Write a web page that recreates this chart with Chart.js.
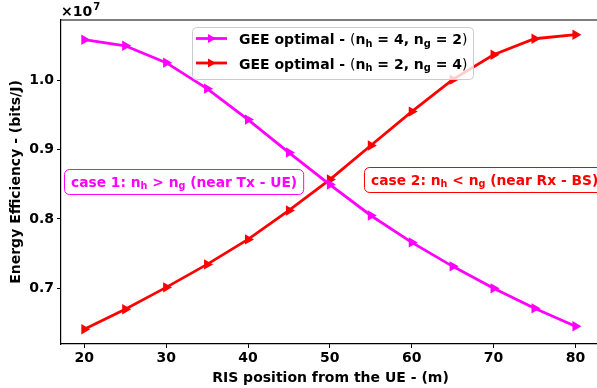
<!DOCTYPE html>
<html>
<head>
<meta charset="utf-8">
<script src="https://cdn.jsdelivr.net/npm/chart.js"></script>
<style>
  html, body { margin: 0; padding: 0; background: #fff; overflow: hidden; }
  #wrap { width: 597px; height: 388px; overflow: hidden; }
</style>
</head>
<body>
<div id="wrap"><canvas id="geeChart" width="606" height="388"></canvas></div>
<script>
// RIS position (m)
const risPosition = [20, 25, 30, 35, 40, 45, 50, 55, 60, 65, 70, 75, 80];
// GEE values in units of 1e7 bits/J
const geeH4G2 = [1.0583, 1.0496, 1.0252, 0.9878, 0.9432, 0.8957, 0.8496, 0.8050, 0.7662, 0.7317, 0.7000, 0.6712, 0.6453];
const geeH2G4 = [0.6410, 0.6698, 0.7014, 0.7345, 0.7705, 0.8122, 0.8568, 0.9058, 0.9547, 1.0007, 1.0367, 1.0597, 1.0655];
const xTicks = [20, 30, 40, 50, 60, 70, 80];
const yTicks = [0.7, 0.8, 0.9, 1.0];
const yTickLabels = ['0.7', '0.8', '0.9', '1.0'];

const FONT = '"DejaVu Sans"';
const MAGENTA = '#ff00ff';
const RED = '#ff0000';

// draw text with subscripts, parts = [{t, sub, normal}]
function richText(ctx, parts, x, y, size, color) {
  let cx = x;
  ctx.fillStyle = color;
  ctx.textBaseline = 'alphabetic';
  ctx.textAlign = 'left';
  for (const p of parts) {
    const fs = p.sub ? size * 0.7 : size;
    ctx.font = (p.normal ? '' : 'bold ') + fs + 'px ' + FONT;
    const dy = p.sub ? size * 0.2 : 0;
    ctx.fillText(p.t, cx, y + dy);
    cx += ctx.measureText(p.t).width;
  }
  return cx - x;
}

function geeLabel(h, g) {
  return [
    {t: 'GEE optimal - '}, {t: '(', normal: true},
    {t: 'n'}, {t: 'h', sub: true}, {t: ' = ' + h + ', '},
    {t: 'n'}, {t: 'g', sub: true}, {t: ' = ' + g},
    {t: ')', normal: true}
  ];
}

function drawMarker(ctx, x, y, color) {
  ctx.save();
  ctx.fillStyle = color;
  ctx.beginPath();
  ctx.moveTo(x + 4.5, y);
  ctx.lineTo(x - 3.5, y - 4.6);
  ctx.lineTo(x - 3.5, y + 4.6);
  ctx.closePath();
  ctx.fill();
  ctx.restore();
}

const extras = {
  id: 'extras',
  afterDraw(chart) {
    const ctx = chart.ctx;
    const a = chart.chartArea;
    ctx.save();
    // top spine
    ctx.strokeStyle = '#000';
    ctx.lineWidth = 1.2;
    ctx.beginPath();
    ctx.moveTo(a.left, a.top);
    ctx.lineTo(a.right, a.top);
    ctx.stroke();

    // offset text
    ctx.fillStyle = '#000';
    ctx.font = 'bold 14px ' + FONT;
    ctx.textBaseline = 'alphabetic';
    ctx.fillText('\u00d710', 61, 16);
    const w = ctx.measureText('\u00d710').width;
    ctx.font = 'bold 10px ' + FONT;
    ctx.fillText('7', 61 + w + 1, 10);

    // axis titles
    ctx.font = 'bold 14px ' + FONT;
    ctx.textAlign = 'center';
    ctx.textBaseline = 'middle';
    ctx.fillText('RIS position from the UE - (m)', (a.left + a.right) / 2, 378);
    ctx.save();
    ctx.translate(16, (a.top + a.bottom) / 2);
    ctx.rotate(-Math.PI / 2);
    ctx.fillText('Energy Efficiency - (bits/J)', 0, 0);
    ctx.restore();

    // annotation boxes
    const boxes = [
      {x: 64, y: 169, h: 25, color: MAGENTA,
       parts: [{t: 'case 1: n'}, {t: 'h', sub: true}, {t: ' > n'}, {t: 'g', sub: true}, {t: ' (near Tx - UE)'}]},
      {x: 364, y: 167, h: 25, color: RED,
       parts: [{t: 'case 2: n'}, {t: 'h', sub: true}, {t: ' < n'}, {t: 'g', sub: true}, {t: ' (near Rx - BS)'}]}
    ];
    const fs = 13.8;
    for (const b of boxes) {
      // measure text first
      ctx.save();
      ctx.globalAlpha = 0;
      const tw = richText(ctx, b.parts, 0, -100, fs, b.color);
      ctx.restore();
      ctx.beginPath();
      ctx.roundRect(b.x + 0.5, b.y + 0.5, tw + 13, b.h, 5);
      ctx.fillStyle = '#fff';
      ctx.fill();
      ctx.strokeStyle = b.color;
      ctx.lineWidth = 1;
      ctx.stroke();
      richText(ctx, b.parts, b.x + 7, b.y + b.h / 2 + 5, fs, b.color);
    }

    // legend
    ctx.beginPath();
    ctx.roundRect(192.5, 27.5, 281, 52, 4);
    ctx.fillStyle = 'rgba(255,255,255,0.8)';
    ctx.fill();
    ctx.strokeStyle = '#cccccc';
    ctx.lineWidth = 1;
    ctx.stroke();
    const rows = [
      {y: 38.5, color: MAGENTA, parts: geeLabel(4, 2)},
      {y: 63, color: RED, parts: geeLabel(2, 4)}
    ];
    for (const r of rows) {
      ctx.strokeStyle = r.color;
      ctx.lineWidth = 2.8;
      ctx.beginPath();
      ctx.moveTo(196, r.y);
      ctx.lineTo(227, r.y);
      ctx.stroke();
      drawMarker(ctx, 211.5, r.y, r.color);
      richText(ctx, r.parts, 239, r.y + 5.5, 14, '#000');
    }
    ctx.restore();
  }
};

const series = [
  {label: 'GEE optimal - (nh = 4, ng = 2)', values: geeH4G2, color: MAGENTA},
  {label: 'GEE optimal - (nh = 2, ng = 4)', values: geeH2G4, color: RED}
];

new Chart(document.getElementById('geeChart').getContext('2d'), {
  type: 'line',
  data: {
    datasets: series.map(s => ({
      label: s.label,
      data: risPosition.map((x, i) => ({x: x, y: s.values[i]})),
      borderColor: s.color,
      backgroundColor: s.color,
      borderWidth: 2.8,
      pointStyle: 'triangle',
      rotation: 90,
      pointRadius: 6,
      pointBorderWidth: 0,
      tension: 0
    }))
  },
  options: {
    responsive: false,
    animation: false,
    layout: {padding: {top: 20, right: 1, left: 0, bottom: 0}},
    plugins: {legend: {display: false}, tooltip: {enabled: false}},
    scales: {
      x: {
        type: 'linear',
        min: 17.155,
        max: 83.0,
        afterBuildTicks: s => { s.ticks = xTicks.map(v => ({value: v})); },
        afterFit: s => { s.height = 44; },
        ticks: {
          color: '#000',
          font: {family: FONT, size: 14, weight: 'bold'},
          padding: 2,
          maxRotation: 0,
          callback: v => String(v)
        },
        grid: {drawOnChartArea: false, drawTicks: true, tickLength: 4, color: '#000', lineWidth: 1},
        border: {display: true, color: '#000', width: 1.2}
      },
      y: {
        min: 0.6198,
        max: 1.0867,
        afterBuildTicks: s => { s.ticks = yTicks.map(v => ({value: v})); },
        afterFit: s => { s.width = 61; },
        ticks: {
          color: '#000',
          font: {family: FONT, size: 14, weight: 'bold'},
          padding: 3,
          callback: v => yTickLabels[yTicks.findIndex(t => Math.abs(t - v) < 1e-9)]
        },
        grid: {drawOnChartArea: false, drawTicks: true, tickLength: 4, color: '#000', lineWidth: 1},
        border: {display: true, color: '#000', width: 1.2}
      }
    }
  },
  plugins: [extras]
});
</script>
</body>
</html>
